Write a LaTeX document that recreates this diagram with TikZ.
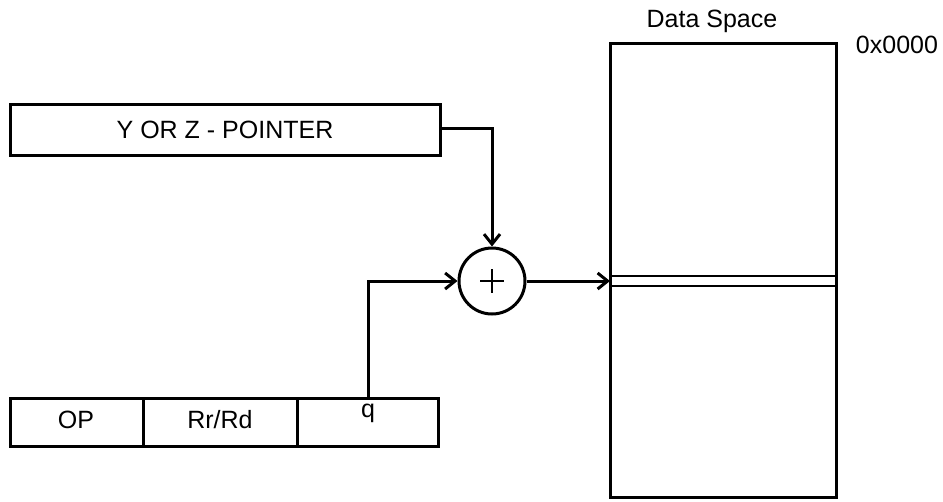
\documentclass[tikz,border=0pt]{standalone}
\usepackage{fontspec}
\setmainfont{Liberation Sans}
\usetikzlibrary{arrows.meta}
\begin{document}
\begin{tikzpicture}[x=1pt,y=-1pt,
  lbl/.style={font=\fontsize{25}{28}\selectfont},
  con/.style={line width=3pt,-{Straight Barb[length=10pt,width=16pt,line width=3pt]}}]
\useasboundingbox (0,0) rectangle (943,501);
\draw[line width=3pt] (10,104) rectangle (440,155);
\node[lbl] (ptr) at (225,130) {Y OR Z - POINTER};
\coordinate (ptrR) at (440,128);
\node[draw,circle,line width=3pt,minimum size=66pt,inner sep=0pt] (sum) at (492,281) {};
\draw[line width=1.2pt] (480,281) -- (504,281) (492,269) -- (492,293);
\draw[line width=3pt] (10,398) rectangle (438,446);
\draw[line width=3pt] (143,398) -- (143,446) (297,398) -- (297,446);
\node[lbl] (op) at (76,420) {OP};
\node[lbl] (rr) at (220,420) {Rr/Rd};
\node[lbl] (q) at (368,413) {q};
\coordinate (qT) at (368,398);
\draw[line width=3pt] (610,43) rectangle (836,497);
\draw[line width=2pt] (610,276) -- (836,276) (610,286) -- (836,286);
\coordinate (ds) at (610,281);
\node[lbl] (dsl) at (712,21) {Data Space};
\node[lbl] (addr) at (897,45) {0x0000};
\draw[con] (ptrR) -| (sum.north);
\draw[con] (qT) |- (sum.west);
\draw[con] (sum.east) -- (ds);
\end{tikzpicture}
\end{document}
